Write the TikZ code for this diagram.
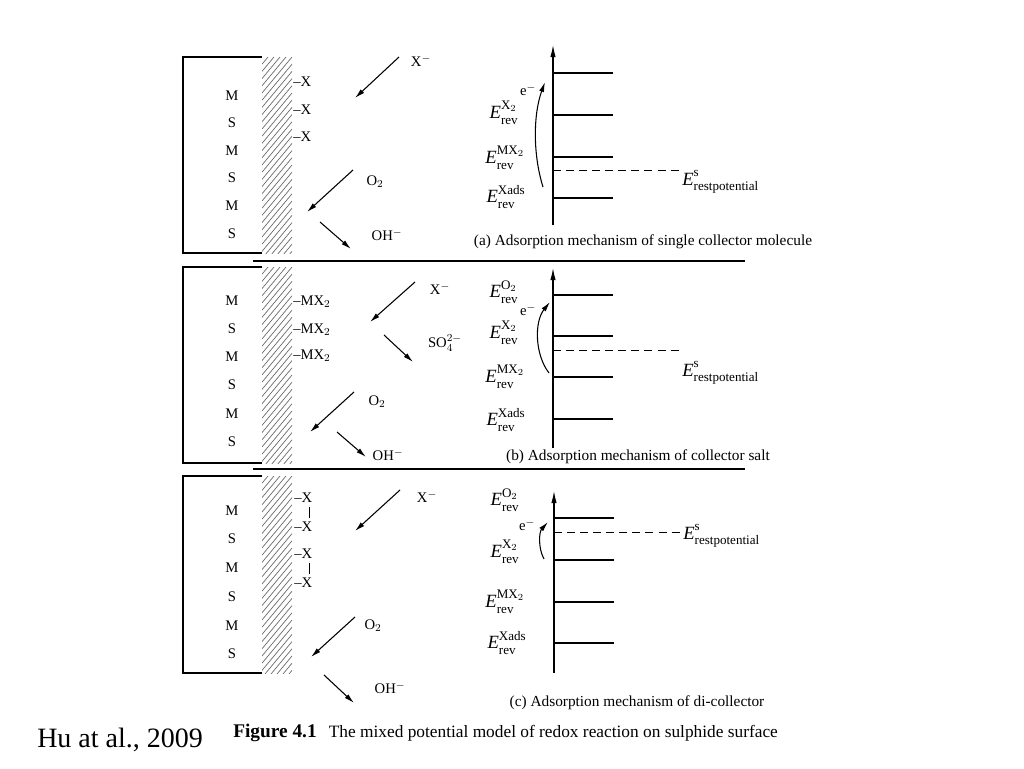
\documentclass[tikz,border=0pt]{standalone}
\usepackage{fontspec}
\setmainfont{Liberation Serif}
\usepackage{amsmath}
\usetikzlibrary{arrows.meta}
\tikzset{
  lab/.style={font=\fontsize{11}{13}\selectfont, inner sep=0pt},
  elab/.style={font=\fontsize{14}{16}\selectfont, inner sep=0pt},
  captext/.style={font=\fontsize{11.5}{13}\selectfont, inner sep=0pt},
  arr/.style={-{Latex[length=7.5pt,width=3.8pt]}, line width=0.8pt},
  axisline/.style={-{Latex[length=9pt,width=4pt]}, line width=0.8pt},
  lvl/.style={line width=0.8pt},
  dsh/.style={line width=0.7pt, dash pattern=on 6pt off 3.8pt},
  boxline/.style={line width=0.8pt},
  sepline/.style={line width=0.9pt},
  hatchline/.style={line width=0.5pt, black!60},
  bond/.style={line width=0.6pt}
}
\newcommand{\Ev}[1]{$\textit{E}^{\text{\raisebox{1.2pt}{#1}}}_{\text{\raisebox{-0.8pt}{rev}}}$}
\newcommand{\Es}{$\textit{E}^{\text{\raisebox{1.2pt}{s}}}_{\text{\raisebox{-0.8pt}{restpotential}}}$}
\newcommand{\hatchcol}[2]{%
  \begin{scope}
    \clip (262,#1) rectangle (292,#2);
    \foreach \k in {0,...,32} {\draw[hatchline] (262,{#1+\k*7.2}) -- ++(30,-36);}
  \end{scope}}
\begin{document}
\begin{tikzpicture}[x=0.75pt,y=-0.75pt]
\useasboundingbox (0,0) rectangle (1024,768);
\fill[white] (0,0) rectangle (1024,768);

% ================= panel (a) =================
\draw[boxline] (262,57) -- (183,57) -- (183,253) -- (262,253);
\hatchcol{57}{253}
\node[lab] (am1) at (232,96) {M};
\node[lab] (as1) at (232,123) {S};
\node[lab] (am2) at (232,151) {M};
\node[lab] (as2) at (232,178) {S};
\node[lab] (am3) at (232,206) {M};
\node[lab] (as3) at (232,234) {S};
\node[lab,anchor=west] (ax1) at (293,82) {–X};
\node[lab,anchor=west] (ax2) at (293,110) {–X};
\node[lab,anchor=west] (ax3) at (293,137) {–X};
\coordinate (aXs) at (399,57); \coordinate (aXe) at (355,98);
\draw[arr] (aXs) -- (aXe);
\node[lab] (aXl) at (421,61) {X$^{-}$};
\coordinate (aOs) at (353,170); \coordinate (aOe) at (307,212);
\draw[arr] (aOs) -- (aOe);
\node[lab] (aOl) at (375,182) {O$_2$};
\coordinate (aHs) at (320,222); \coordinate (aHe) at (351,249);
\draw[arr] (aHs) -- (aHe);
\node[lab] (aHl) at (387,235) {OH$^{-}$};
% right
\coordinate (aA0) at (553,225); \coordinate (aA1) at (553,45);
\draw[axisline] (aA0) -- (aA1);
\coordinate (aL1) at (553,73);  \coordinate (aR1) at (613,73);
\coordinate (aL2) at (553,115); \coordinate (aR2) at (613,115);
\coordinate (aL3) at (553,157); \coordinate (aR3) at (613,157);
\coordinate (aL4) at (553,198); \coordinate (aR4) at (613,198);
\foreach \i in {1,...,4} {\draw[lvl] (aL\i) -- (aR\i);}
\coordinate (aD0) at (553,170); \coordinate (aD1) at (680,170);
\draw[dsh] (aD0) -- (aD1);
\node[elab,anchor=west] (aEs) at (682,182) {\Es};
\node[elab] (aE1) at (504,113) {\Ev{X$_2$}};
\node[elab] (aE2) at (505,158) {\Ev{MX$_2$}};
\node[elab] (aE3) at (506,197) {\Ev{Xads}};
\node[lab] (ae) at (528,90) {e$^{-}$};
\coordinate (aC0) at (543,187); \coordinate (aC1) at (545,82);
\draw[arr] (aC0) .. controls (533,155) and (533,115) .. (aC1);
\node[captext] (acap) at (643,242) {(a) Adsorption mechanism of single collector molecule};
\coordinate (sep1a) at (253,261); \coordinate (sep1b) at (745,261);
\draw[sepline] (sep1a) -- (sep1b);

% ================= panel (b) =================
\draw[boxline] (262,267) -- (183,267) -- (183,463) -- (262,463);
\hatchcol{267}{463}
\node[lab] (bm1) at (232,301) {M};
\node[lab] (bs1) at (232,329) {S};
\node[lab] (bm2) at (232,357) {M};
\node[lab] (bs2) at (232,385) {S};
\node[lab] (bm3) at (232,414) {M};
\node[lab] (bs3) at (232,442) {S};
\node[lab,anchor=west] (bx1) at (293,302) {–MX$_2$};
\node[lab,anchor=west] (bx2) at (293,330) {–MX$_2$};
\node[lab,anchor=west] (bx3) at (293,356) {–MX$_2$};
\coordinate (bXs) at (415,282); \coordinate (bXe) at (370,322);
\draw[arr] (bXs) -- (bXe);
\node[lab] (bXl) at (440,289) {X$^{-}$};
\coordinate (bSs) at (384,335); \coordinate (bSe) at (413,362);
\draw[arr] (bSs) -- (bSe);
\node[lab] (bSl) at (445,343) {SO$_4^{2-}$};
\coordinate (bOs) at (354,392); \coordinate (bOe) at (310,432);
\draw[arr] (bOs) -- (bOe);
\node[lab] (bOl) at (377,402) {O$_2$};
\coordinate (bHs) at (337,432); \coordinate (bHe) at (366,457);
\draw[arr] (bHs) -- (bHe);
\node[lab] (bHl) at (388,455) {OH$^{-}$};
% right
\coordinate (bA0) at (553,448); \coordinate (bA1) at (553,268);
\draw[axisline] (bA0) -- (bA1);
\coordinate (bL1) at (553,295); \coordinate (bR1) at (613,295);
\coordinate (bL2) at (553,336); \coordinate (bR2) at (613,336);
\coordinate (bL3) at (553,377); \coordinate (bR3) at (613,377);
\coordinate (bL4) at (553,419); \coordinate (bR4) at (613,419);
\foreach \i in {1,...,4} {\draw[lvl] (bL\i) -- (bR\i);}
\coordinate (bD0) at (553,350); \coordinate (bD1) at (680,350);
\draw[dsh] (bD0) -- (bD1);
\node[elab,anchor=west] (bEs) at (682,373) {\Es};
\node[elab] (bE0) at (504,292) {\Ev{O$_2$}};
\node[elab] (bE1) at (504,333) {\Ev{X$_2$}};
\node[elab] (bE2) at (505,377) {\Ev{MX$_2$}};
\node[elab] (bE3) at (506,420) {\Ev{Xads}};
\node[lab] (be) at (528,310) {e$^{-}$};
\coordinate (bC0) at (549,373); \coordinate (bC1) at (550,302);
\draw[arr] (bC0) .. controls (535,355) and (534,322) .. (bC1);
\node[captext] (bcap) at (638,457) {(b) Adsorption mechanism of collector salt};
\coordinate (sep2a) at (253,469); \coordinate (sep2b) at (745,469);
\draw[sepline] (sep2a) -- (sep2b);

% ================= panel (c) =================
\draw[boxline] (262,476) -- (183,476) -- (183,673) -- (262,673);
\hatchcol{476}{673}
\node[lab] (cm1) at (232,511) {M};
\node[lab] (cs1) at (232,539) {S};
\node[lab] (cm2) at (232,568) {M};
\node[lab] (cs2) at (232,597) {S};
\node[lab] (cm3) at (232,626) {M};
\node[lab] (cs3) at (232,654) {S};
\node[lab,anchor=west] (cx1) at (294,498) {–X};
\node[lab,anchor=west] (cx2) at (294,527) {–X};
\node[lab,anchor=west] (cx3) at (294,554) {–X};
\node[lab,anchor=west] (cx4) at (294,583) {–X};
\coordinate (cb1) at (309,507); \coordinate (cb2) at (309,518);
\coordinate (cb3) at (309,563); \coordinate (cb4) at (309,574);
\draw[bond] (cb1) -- (cb2);
\draw[bond] (cb3) -- (cb4);
\coordinate (cXs) at (400,490); \coordinate (cXe) at (355,531);
\draw[arr] (cXs) -- (cXe);
\node[lab] (cXl) at (427,497) {X$^{-}$};
\coordinate (cOs) at (355,617); \coordinate (cOe) at (311,657);
\draw[arr] (cOs) -- (cOe);
\node[lab] (cOl) at (373,626) {O$_2$};
\coordinate (cHs) at (324,675); \coordinate (cHe) at (354,703);
\draw[arr] (cHs) -- (cHe);
\node[lab] (cHl) at (390,688) {OH$^{-}$};
% right
\coordinate (cA0) at (554,673); \coordinate (cA1) at (554,491);
\draw[axisline] (cA0) -- (cA1);
\coordinate (cL1) at (554,518); \coordinate (cR1) at (614,518);
\coordinate (cL2) at (554,560); \coordinate (cR2) at (614,560);
\coordinate (cL3) at (554,602); \coordinate (cR3) at (614,602);
\coordinate (cL4) at (554,643); \coordinate (cR4) at (614,643);
\foreach \i in {1,...,4} {\draw[lvl] (cL\i) -- (cR\i);}
\coordinate (cD0) at (554,532); \coordinate (cD1) at (680,532);
\draw[dsh] (cD0) -- (cD1);
\node[elab,anchor=west] (cEs) at (683,536) {\Es};
\node[elab] (cE0) at (505,500) {\Ev{O$_2$}};
\node[elab] (cE1) at (505,552) {\Ev{X$_2$}};
\node[elab] (cE2) at (505,602) {\Ev{MX$_2$}};
\node[elab] (cE3) at (507,643) {\Ev{Xads}};
\node[lab] (ce) at (527,525) {e$^{-}$};
\coordinate (cC0) at (544,559); \coordinate (cC1) at (548,522);
\draw[arr] (cC0) .. controls (538,548) and (539,532) .. (cC1);
\node[captext] (ccap) at (637,703) {(c) Adsorption mechanism of di-collector};

% ================= captions =================
\node[font=\fontsize{21}{24}\selectfont, inner sep=0pt, anchor=west] (cite) at (37,740) {Hu at al., 2009};
\node[font=\fontsize{13}{15}\selectfont, inner sep=0pt, anchor=west] (fig) at (233,733) {{\fontsize{14.5}{15}\selectfont\textbf{Figure 4.1}}\hspace{0.7em}The mixed potential model of redox reaction on sulphide surface};
\end{tikzpicture}
\end{document}
